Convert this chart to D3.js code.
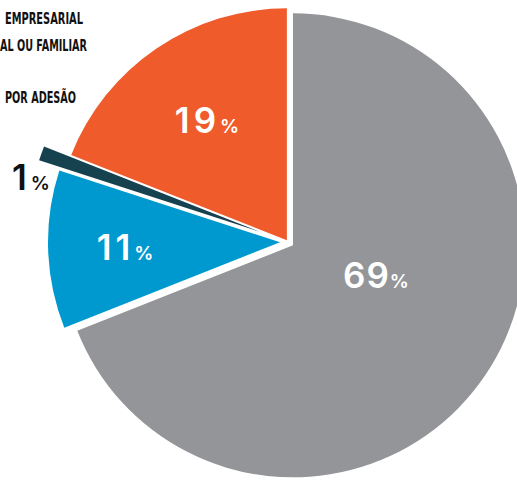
<!DOCTYPE html>
<html>
<head>
<meta charset="utf-8">
<script src="https://cdn.jsdelivr.net/npm/d3@7"></script>
<style>
  body { margin: 0; background: #fff; }
  svg { display: block; }
</style>
</head>
<body>
<div id="main"></div>
<script>
// slice order: clockwise from 12 o'clock
let categories = ["Individual ou familiar", "Coletivo empresarial", "Exclusivamente odontológico", "Coletivo por adesão"];
let values = [69, 11, 1, 19];
// legend texts as they show in the picture (cut by the left edge)
let legendLabels = ["EMPRESARIAL", "AL OU FAMILIAR", "POR ADESÃO"];

let width = 517, height = 480;
let cx = 288, cy = 242, radius = 232;

let colorScale = d3.scaleOrdinal()
    .domain(categories)
    .range(["#939598", "#0099cf", "#16414f", "#ef5b2b"]);

// how far each slice is pulled out from the centre
let explode = [6, 8, 30, 2];
// label anchor (middle, baseline) relative to the pie centre, and text colour
let labelOffset = [[88, 46], [-163, 18], [-257, -52], [-81, -109]];
let labelFill = ["#fff", "#fff", "#111", "#fff"];

let svg = d3.select("#main")
    .append("svg")
    .attr("width", width)
    .attr("height", height);

let pie = d3.pie().sort(null).value(d => d);
let arcs = pie(values);

let arc = d3.arc().innerRadius(0).outerRadius(radius);

let g = svg.append("g").attr("transform", `translate(${cx},${cy})`);

function dir(d) {
    let a = (d.startAngle + d.endAngle) / 2;
    return [Math.sin(a), -Math.cos(a)];
}

g.selectAll("path.slice")
    .data(arcs)
    .enter()
    .append("path")
    .attr("class", "slice")
    .attr("d", arc)
    .attr("fill", (d, i) => colorScale(categories[i]))
    .attr("transform", (d, i) => {
        let [dx, dy] = dir(d);
        return `translate(${dx * explode[i]},${dy * explode[i]})`;
    });

let labels = g.selectAll("text.val")
    .data(arcs)
    .enter()
    .append("text")
    .attr("class", "val")
    .attr("text-anchor", "middle")
    .attr("font-family", "Inter, 'Liberation Sans', sans-serif")
    .attr("font-weight", 600)
    .attr("fill", (d, i) => labelFill[i])
    .attr("x", (d, i) => labelOffset[i][0])
    .attr("y", (d, i) => labelOffset[i][1]);

labels.append("tspan")
    .attr("font-size", 35)
    .attr("letter-spacing", d => String(d.data).includes("1") ? 4 : 1)
    .text(d => d.data);
labels.append("tspan")
    .attr("font-size", 19)
    .attr("dx", 0)
    .text("%");

let legendY = [24, 51, 103];
let legendX = [5, 0, 5];
let legendW = [78, 87, 71];
svg.selectAll("text.leg")
    .data(legendLabels)
    .enter()
    .append("text")
    .attr("class", "leg")
    .attr("x", (d, i) => legendX[i])
    .attr("y", (d, i) => legendY[i])
    .attr("textLength", (d, i) => legendW[i])
    .attr("lengthAdjust", "spacingAndGlyphs")
    .attr("font-family", "'Liberation Sans Narrow', 'DejaVu Sans Condensed', sans-serif")
    .attr("font-stretch", "condensed")
    .attr("font-weight", "bold")
    .attr("font-size", 15)
    .attr("fill", "#111")
    .text(d => d);
</script>
</body>
</html>
